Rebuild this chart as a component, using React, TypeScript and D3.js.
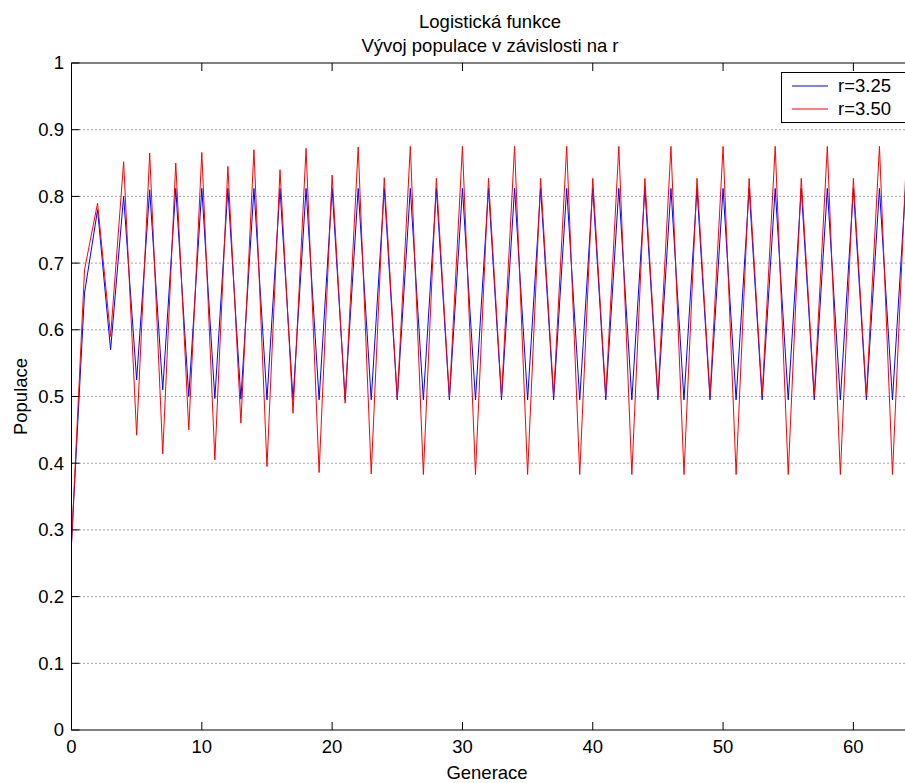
import React from "react";
import * as d3 from "d3";

// values
const generations = d3.range(0, 65);
const seriesNames = ["r=3.25", "r=3.50"];
const seriesColors = ["#0000ff", "#ff0000"];

const popR325 = [
  0.28, 0.655, 0.78, 0.57, 0.8, 0.525, 0.81, 0.51, 0.812, 0.5,
  0.812, 0.497, 0.812, 0.496, 0.812, 0.495, 0.812, 0.495, 0.812, 0.495,
  0.812, 0.495, 0.812, 0.495, 0.812, 0.495, 0.812, 0.495, 0.812, 0.495,
  0.812, 0.495, 0.812, 0.495, 0.812, 0.495, 0.812, 0.495, 0.812, 0.495,
  0.812, 0.495, 0.812, 0.495, 0.812, 0.495, 0.812, 0.495, 0.812, 0.495,
  0.812, 0.495, 0.812, 0.495, 0.812, 0.495, 0.812, 0.495, 0.812, 0.495,
  0.812, 0.495, 0.812, 0.495, 0.812,
];

const popR350 = [
  0.28, 0.69, 0.79, 0.59, 0.852, 0.442, 0.865, 0.414, 0.85, 0.45,
  0.866, 0.405, 0.845, 0.46, 0.87, 0.395, 0.84, 0.475, 0.872, 0.386,
  0.832, 0.49, 0.874, 0.384, 0.828, 0.497, 0.875, 0.383, 0.827, 0.499,
  0.875, 0.383, 0.827, 0.5, 0.875, 0.383, 0.827, 0.501, 0.875, 0.383,
  0.827, 0.501, 0.875, 0.383, 0.827, 0.501, 0.875, 0.383, 0.827, 0.501,
  0.875, 0.383, 0.827, 0.501, 0.875, 0.383, 0.827, 0.501, 0.875, 0.383,
  0.827, 0.501, 0.875, 0.383, 0.827,
];

const xTicks = [0, 10, 20, 30, 40, 50, 60];
const yTicks = [0, 0.1, 0.2, 0.3, 0.4, 0.5, 0.6, 0.7, 0.8, 0.9, 1];
const yTickLabels = ["0", "0.1", "0.2", "0.3", "0.4", "0.5", "0.6", "0.7", "0.8", "0.9", "1"];

const W = 905;
const H = 783;
const FONT = "'Liberation Sans', Arial, sans-serif";

export default function App() {
  const x = d3.scaleLinear().domain([0, 64]).range([71.5, 905.5]);
  const y = d3.scaleLinear().domain([0, 1]).range([730, 63]);
  const line = d3
    .line<number>()
    .x((_, i) => x(generations[i]))
    .y(d => y(d));

  const left = x(0);
  const right = x(64);
  const top = y(1);
  const bottom = y(0);
  const tick = 8;

  return (
    <svg
      width={W}
      height={H}
      style={{ position: "absolute", left: 0, top: 0, background: "#fff" }}
      fontFamily={FONT}
    >
      <rect x={0} y={0} width={W} height={H} fill="#fff" />
      {/* grid */}
      {yTicks.slice(1, -1).map(t => (
        <line
          key={"g" + t}
          x1={left}
          x2={right}
          y1={y(t)}
          y2={y(t)}
          stroke="#444"
          strokeWidth={1}
          strokeDasharray="1 3"
        />
      ))}

      {/* series */}
      {[popR325, popR350].map((s, i) => (
        <path key={i} d={line(s) || ""} fill="none" stroke={seriesColors[i]} strokeWidth={1} />
      ))}

      {/* axes box */}
      <rect x={left} y={top} width={right - left} height={bottom - top} fill="none" stroke="#000" strokeWidth={1} />

      {/* ticks */}
      {yTicks.map((t, i) => (
        <g key={"y" + t}>
          <line x1={left} x2={left + tick} y1={y(t)} y2={y(t)} stroke="#000" />
          <text x={64} y={y(t)} dy="0.35em" textAnchor="end" fontSize={18.5}>
            {yTickLabels[i]}
          </text>
        </g>
      ))}
      {xTicks.map(t => (
        <g key={"x" + t}>
          <line x1={x(t)} x2={x(t)} y1={bottom} y2={bottom - tick} stroke="#000" />
          <line x1={x(t)} x2={x(t)} y1={top} y2={top + tick} stroke="#000" />
          <text x={x(t)} y={753} textAnchor="middle" fontSize={18.5}>
            {t}
          </text>
        </g>
      ))}

      {/* labels */}
      <text x={487} y={779} textAnchor="middle" fontSize={18.5}>
        Generace
      </text>
      <text transform={`translate(27,${(top + bottom) / 2}) rotate(-90)`} textAnchor="middle" fontSize={18.5}>
        Populace
      </text>
      <text x={490} y={28} textAnchor="middle" fontSize={18.5}>
        Logistická funkce
      </text>
      <text x={490} y={51.5} textAnchor="middle" fontSize={18.5}>
        Vývoj populace v závislosti na r
      </text>

      {/* legend */}
      <rect x={781.5} y={72.5} width={140} height={50} fill="#fff" stroke="#000" />
      {seriesNames.map((n, i) => (
        <g key={n}>
          <line x1={792} x2={828} y1={86 + i * 23} y2={86 + i * 23} stroke={seriesColors[i]} />
          <text x={838} y={86 + i * 23} dy="0.35em" fontSize={18.5}>
            {n}
          </text>
        </g>
      ))}
    </svg>
  );
}
